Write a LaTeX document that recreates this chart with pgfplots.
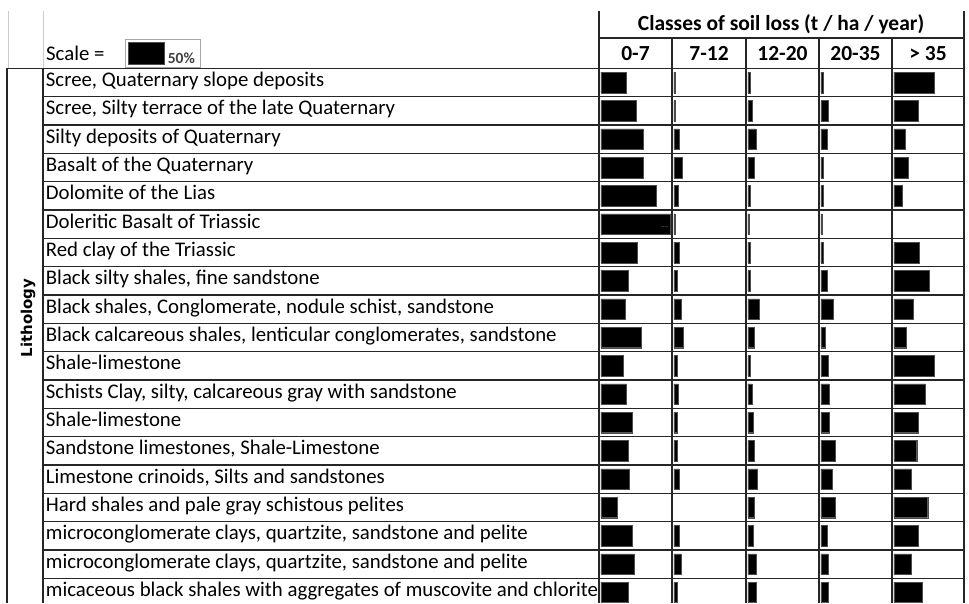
\documentclass[border=0pt]{standalone}
\usepackage{pgfplots}
\usepackage{pgfplotstable}
\pgfplotsset{compat=1.18}
\usepackage{fontspec}
\setmainfont{Carlito}
\newfontfamily\lithfont{DejaVu Sans}

\pgfplotstableread{
row c1 c2 c3 c4 c5
1  35 1.5 3   3   55
2  48 1.5 5.5 9.5 33
3  58 7   11  8   15
4  58 11  8   3.5 20
5  75 6   3.5 3.5 11
6  95 2.3 1.5 1.5 nan
7  50 7   3.5 3.5 35
8  37 4   3.5 8   48
9  33 9.5 15  17  26
10 55 13  9   6   17
11 30 4   2.7 9.5 55
12 35 6   5.5 11  43
13 43 4   7   11  33
14 37 4   9   19  31
15 39 7   13  15  24
16 22 nan 9   20  46
17 43 7   7   8   33
18 45 9.5 11  9.5 24
19 37 4   11  9.5 39
}\soiltable

\pgfplotsset{
  soilcol/.style={
    anchor=north west,
    x=0.733pt, y=28.33pt,
    xmin=-2.7,
    ymin=0.5, ymax=19.37,
    y dir=reverse,
    xbar, bar width=20.6pt,
    axis line style={draw=none},
    xtick=\empty, ytick=\empty,
    clip=true,
    title style={at={(0.5,1)}, anchor=base, yshift=2pt, inner sep=0pt,
      font=\bfseries\fontsize{21.5}{24}\selectfont},
  },
  soilbar/.style={draw=black!70, line width=0.4pt, fill=black},
}

\begin{document}
\begin{tikzpicture}
\useasboundingbox (0,0) rectangle (969pt,-603pt);

% column 0-7 with row labels
\begin{axis}[soilcol, at={(599pt,-68.3pt)}, xmax=96.9, title={0-7},
  ytick={1,...,19},
  ytick style={draw=none},
  yticklabel style={anchor=base west, inner sep=0pt, xshift=-549pt, yshift=-4pt,
    font=\fontsize{20.8}{24}\selectfont},
  yticklabels={
    {Scree, Quaternary slope deposits},
    {Scree, Silty terrace of the late Quaternary},
    {Silty deposits of Quaternary},
    {Basalt of the Quaternary},
    {Dolomite of the Lias},
    {Doleritic Basalt of Triassic},
    {Red clay of the Triassic},
    {Black silty shales, fine sandstone},
    {Black shales, Conglomerate, nodule schist, sandstone},
    {Black calcareous shales, lenticular conglomerates, sandstone},
    {Shale-limestone},
    {Schists Clay, silty, calcareous gray with sandstone},
    {Shale-limestone},
    {Sandstone limestones, Shale-Limestone},
    {Limestone crinoids, Silts and sandstones},
    {Hard shales and pale gray schistous pelites},
    {microconglomerate clays, quartzite, sandstone and pelite},
    {microconglomerate clays, quartzite, sandstone and pelite},
    {micaceous black shales with aggregates of muscovite and chlorite}}]
\addplot[soilbar] table[x=c1, y=row] {\soiltable};
\end{axis}

\begin{axis}[soilcol, at={(672pt,-68.3pt)}, xmax=98.3, title={7-12}]
\addplot[soilbar] table[x=c2, y=row] {\soiltable};
\end{axis}

\begin{axis}[soilcol, at={(746pt,-68.3pt)}, xmax=96.9, title={12-20}]
\addplot[soilbar] table[x=c3, y=row] {\soiltable};
\end{axis}

\begin{axis}[soilcol, at={(819pt,-68.3pt)}, xmax=96.9, title={20-35}]
\addplot[soilbar] table[x=c4, y=row] {\soiltable};
\end{axis}

\begin{axis}[soilcol, at={(892pt,-68.3pt)}, xmax=95.5, title={> 35}]
\addplot[soilbar] table[x=c5, y=row] {\soiltable};
\end{axis}

% scale key
\begin{axis}[anchor=north west, at={(125pt,-39pt)},
  x=0.733pt, y=28pt, xmin=-4.1, xmax=98.2, ymin=0.5, ymax=1.5,
  xbar, bar width=21.6pt,
  axis line style={draw=black!35, line width=0.9pt},
  xtick=\empty, ytick=\empty, clip=false,
  nodes near coords={\textbf{50\%}},
  every node near coord/.style={anchor=base west, inner sep=0pt, xshift=3pt, yshift=-10pt,
    text=black!75, font=\fontsize{15.5}{16}\selectfont}]
\addplot[soilbar] coordinates {(50,1)};
\end{axis}

\begin{scope}[x=1pt, y=-1pt]
  % light grid lines in header area
  \draw[black!20, line width=0.8pt] (8,11) -- (8,68.3);
  \draw[black!20, line width=0.8pt] (43,11) -- (43,68.3);
  % table lines
  \foreach \k in {0,...,18}{
    \pgfmathsetmacro{\yy}{68.3+\k*28.33}
    \draw[black!85, line width=1.4pt] (43,\yy) -- (964,\yy);
  }
  \draw[black!85, line width=1.4pt] (7,68.3) -- (43,68.3);
  \draw[black!85, line width=1.4pt] (7,68.3) -- (7,603);
  \draw[black!85, line width=1.4pt] (43,68.3) -- (43,603);
  \draw[black!85, line width=1.4pt] (599,11) -- (599,603);
  \draw[black!85, line width=1.4pt] (964,11) -- (964,603);
  \foreach \xx in {672,746,819,892}{
    \draw[black!85, line width=1.4pt] (\xx,38) -- (\xx,603);
  }
  \draw[black!85, line width=1.4pt] (599,38) -- (964,38);
  % header texts
  \node[anchor=base, inner sep=0pt, font=\bfseries\fontsize{21.5}{24}\selectfont] at (781,30) {Classes of soil loss (t / ha / year)};
  \node[anchor=base west, inner sep=0pt, font=\fontsize{20.8}{24}\selectfont] at (46,60) {Scale =};
  \node[rotate=90, inner sep=0pt, font=\lithfont\bfseries\fontsize{15}{18}\selectfont] at (28,318) {Lithology};
  \node[inner sep=0pt, text=black!45, font=\fontsize{7}{7}\selectfont] at (665,227) {....};
\end{scope}
\end{tikzpicture}
\end{document}
